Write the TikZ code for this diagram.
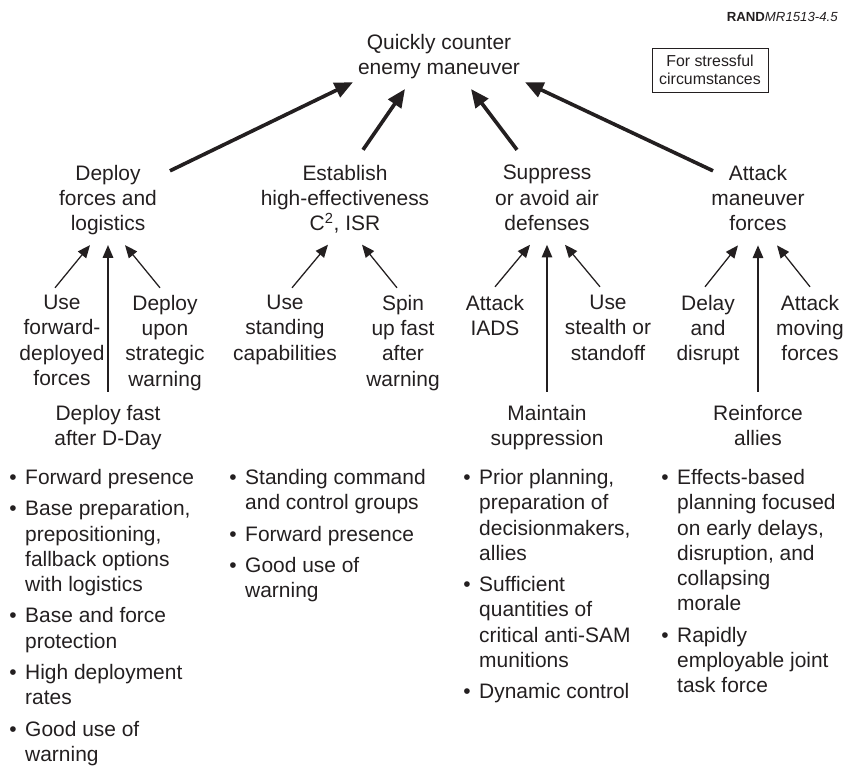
\documentclass[tikz,border=0pt]{standalone}
\usepackage{fontspec}
\setmainfont{Liberation Sans}
\usetikzlibrary{arrows.meta,positioning}
\definecolor{ink}{RGB}{35,31,32}
\newcommand{\bodysize}{\fontsize{14.9pt}{18pt}\selectfont}
\tikzstyle{goal}=[align=center, inner sep=0pt, anchor=north, font=\bodysize]
\tikzstyle{bullets}=[anchor=north west, inner sep=0pt, font=\bodysize]
\tikzstyle{bigarrow}=[line width=2.6pt, -{Triangle[length=13pt,width=11pt]}]
\tikzstyle{subarrow}=[line width=0.9pt, -{Triangle[length=9pt,width=7.5pt]}]

\begin{document}
\begin{tikzpicture}[color=ink]
  \useasboundingbox (0,0) rectangle (21.1,-19.125);

  \node[anchor=east, inner sep=0pt, font=\fontsize{9.4pt}{11pt}\selectfont]
    (tag) at (20.95,-0.425) {\textbf{RAND}\textit{MR1513-4.5}};
  \node[draw, line width=0.6pt, align=center, minimum width=2.9cm,
    minimum height=1.1cm, inner sep=1pt, font=\fontsize{11.3pt}{13pt}\selectfont]
    (stress) at (17.75,-1.75) {For stressful\\circumstances};

  \node[goal] (root) at (10.975,-0.84) {Quickly counter\\enemy maneuver};

  \node[goal] (deploy) at (2.7,-4.12) {Deploy\\forces and\\logistics};
  \node[goal] (establish) at (8.625,-4.12) {Establish\\high-effectiveness\\C\textsuperscript{2}, ISR};
  \node[goal] (suppress) at (13.675,-4.12) {Suppress\\or avoid air\\defenses};
  \node[goal] (attack) at (18.95,-4.12) {Attack\\maneuver\\forces};

  \draw[bigarrow] ([shift={(1.55,-0.15)}]deploy.north) -- ([shift={(-0.12,-0.08)}]root.south west);
  \draw[bigarrow] ([shift={(0.45,0.375)}]establish.north) -- ([shift={(-0.85,-0.25)}]root.south);
  \draw[bigarrow] ([shift={(-0.75,0.375)}]suppress.north) -- ([shift={(0.8,-0.25)}]root.south);
  \draw[bigarrow] ([shift={(-1.125,-0.15)}]attack.north) -- ([shift={(0.12,-0.08)}]root.south east);

  % second level
  \node[goal] (usefwd) at (1.55,-7.37) {Use\\forward-\\deployed\\forces};
  \node[goal] (uponwarn) at (4.125,-7.37) {Deploy\\upon\\strategic\\warning};
  \node[goal] (fast) at (2.7,-10.12) {Deploy fast\\after D-Day};
  \node[goal] (standing) at (7.125,-7.37) {Use\\standing\\capabilities};
  \node[goal] (spinup) at (10.075,-7.37) {Spin\\up fast\\after\\warning};
  \node[goal] (iads) at (12.375,-7.37) {Attack\\IADS};
  \node[goal] (stealth) at (15.2,-7.37) {Use\\stealth or\\standoff};
  \node[goal] (maintain) at (13.675,-10.12) {Maintain\\suppression};
  \node[goal] (delay) at (17.7,-7.37) {Delay\\and\\disrupt};
  \node[goal] (moving) at (20.25,-7.37) {Attack\\moving\\forces};
  \node[goal] (reinforce) at (18.95,-10.12) {Reinforce\\allies};

  \draw[subarrow] ([shift={(-0.175,0.175)}]usefwd.north) -- ([shift={(-0.45,-0.24)}]deploy.south);
  \draw[subarrow] ([yshift=0.325cm]fast.north) -- ([yshift=-0.24cm]deploy.south);
  \draw[subarrow] ([shift={(-0.125,0.175)}]uponwarn.north) -- ([shift={(0.425,-0.24)}]deploy.south);

  \draw[subarrow] ([shift={(0.175,0.175)}]standing.north) -- ([shift={(-0.425,-0.27)}]establish.south);
  \draw[subarrow] ([shift={(-0.15,0.175)}]spinup.north) -- ([shift={(0.425,-0.27)}]establish.south);

  \draw[subarrow] ([yshift=0.2cm]iads.north) -- ([shift={(-0.425,-0.35)}]suppress.south);
  \draw[subarrow] ([yshift=0.325cm]maintain.north) -- ([yshift=-0.35cm]suppress.south);
  \draw[subarrow] ([shift={(-0.2,0.2)}]stealth.north) -- ([shift={(0.45,-0.35)}]suppress.south);

  \draw[subarrow] ([shift={(-0.075,0.2)}]delay.north) -- ([shift={(-0.5,-0.35)}]attack.south);
  \draw[subarrow] ([yshift=0.325cm]reinforce.north) -- ([yshift=-0.35cm]attack.south);
  \draw[subarrow] ([yshift=0.2cm]moving.north) -- ([shift={(0.475,-0.35)}]attack.south);

  % bullet lists
  \node[bullets] (deploylist) at (0.23,-11.66) {\begin{tabular}{@{}l@{\hspace{0.21cm}}l@{}}
    \textbullet & Forward presence\\[0.15cm]
    \textbullet & Base preparation,\\
                & prepositioning,\\
                & fallback options\\
                & with logistics\\[0.15cm]
    \textbullet & Base and force\\
                & protection\\[0.15cm]
    \textbullet & High deployment\\
                & rates\\[0.15cm]
    \textbullet & Good use of\\
                & warning
  \end{tabular}};
  \node[bullets] (establishlist) at (5.73,-11.66) {\begin{tabular}{@{}l@{\hspace{0.21cm}}l@{}}
    \textbullet & Standing command\\
                & and control groups\\[0.15cm]
    \textbullet & Forward presence\\[0.15cm]
    \textbullet & Good use of\\
                & warning
  \end{tabular}};
  \node[bullets] (suppresslist) at (11.58,-11.66) {\begin{tabular}{@{}l@{\hspace{0.21cm}}l@{}}
    \textbullet & Prior planning,\\
                & preparation of\\
                & decisionmakers,\\
                & allies\\[0.15cm]
    \textbullet & Sufficient\\
                & quantities of\\
                & critical anti-SAM\\
                & munitions\\[0.15cm]
    \textbullet & Dynamic control
  \end{tabular}};
  \node[bullets] (attacklist) at (16.53,-11.66) {\begin{tabular}{@{}l@{\hspace{0.21cm}}l@{}}
    \textbullet & Effects-based\\
                & planning focused\\
                & on early delays,\\
                & disruption, and\\
                & collapsing\\
                & morale\\[0.15cm]
    \textbullet & Rapidly\\
                & employable joint\\
                & task force
  \end{tabular}};
\end{tikzpicture}
\end{document}
